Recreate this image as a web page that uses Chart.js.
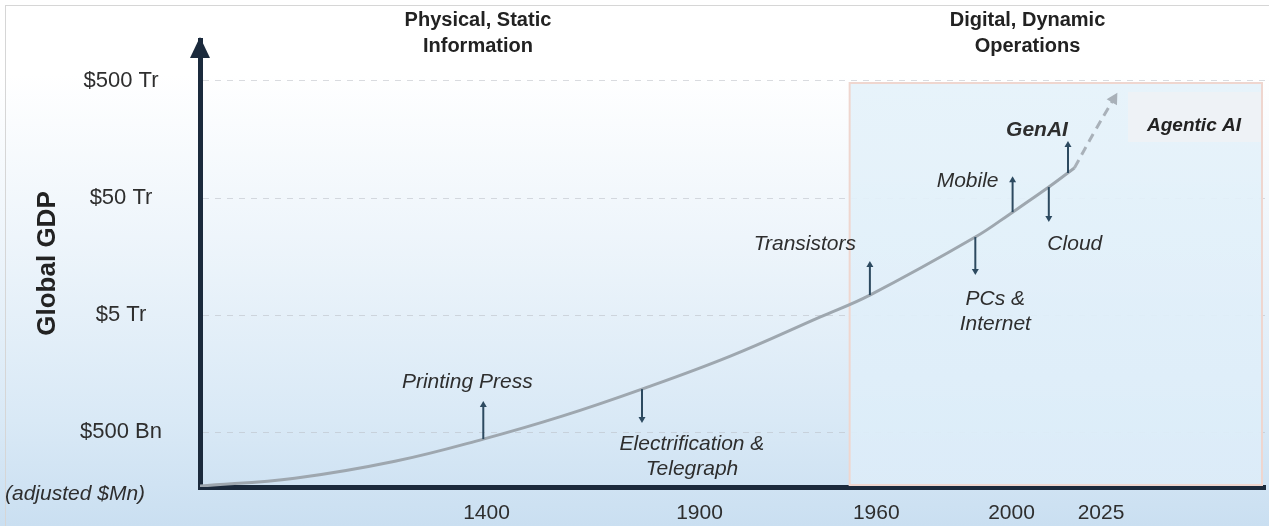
<!DOCTYPE html>
<html>
<head>
<meta charset="utf-8">
<script src="https://cdn.jsdelivr.net/npm/chart.js@4/dist/chart.umd.min.js"></script>
<style>
  html, body { margin: 0; padding: 0; background: #f3f3f3; }
  #wrap {
    position: absolute; left: 0; top: 0; width: 1269px; height: 526px;
    background: linear-gradient(180deg, #ffffff 0%, #ffffff 14%, #eef5fb 45%, #d9e9f6 80%, #cadff1 100%);
  }
  #frame {
    position: absolute; left: 5px; top: 5px; right: 0; bottom: -2px;
    border: 1px solid #d6d6d6; border-right: none; border-bottom: none;
    pointer-events: none;
  }
  canvas { position: absolute; left: 0; top: 0; }
</style>
</head>
<body>
<div id="wrap">
  <canvas id="chart" width="1269" height="526"></canvas>
  <div id="frame"></div>
</div>
<script>
// 軸の目盛り
const xTickPos = [26.9, 46.9, 63.5, 76.2, 84.6];
const xTickLabels = ['1400', '1900', '1960', '2000', '2025'];
const yTickValues = [500, 5000, 50000, 500000];  // $Bn
const yTickLabels = ['$500 Bn', '$5 Tr', '$50 Tr', '$500 Tr'];

// GDPカーブ（横軸は時代の位置、縦軸は $Bn）
const curveX = [0, 8.9, 18.3, 26.6, 34.0, 41.5, 49.8, 58.2, 62.9, 72.8, 76.3, 79.7, 82.1];
const curveGdp = [173, 202, 282, 436, 685, 1166, 2231, 4804, 7413, 23210, 37900, 62050, 90300];

// 将来の予測（点線）
const projX = [82.1, 84.0, 85.9];
const projGdp = [90300, 185000, 365000];

// マイルストーン
const milestoneNames = [['Printing Press'], ['Electrification &', 'Telegraph'], ['Transistors'],
                        ['PCs &', 'Internet'], ['Mobile'], ['Cloud'], ['GenAI']];
const milestoneX = [26.6, 41.5, 62.9, 72.8, 76.3, 79.7, 81.5];
const milestoneGdp = [436, 1166, 7413, 23210, 37900, 62050, 81800];
const milestoneDir = ['up', 'down', 'up', 'down', 'up', 'down', 'up'];

// 時代の見出し
const eraTitles = [['Physical, Static', 'Information'], ['Digital, Dynamic', 'Operations']];
const eraCenters = [26.1, 77.7];
const digitalStart = 61.0;

const AXIS_COLOR = '#1b2a3c';
const TEXT_COLOR = '#2e2e2e';
const FONT = '"Liberation Sans", Arial, sans-serif';

// ラベルの配置（矢印の根元からのずれ）
const labelLayout = [
    { len: 38, dx: -16, dy: -57, bold: false },
    { len: 34, dx: 50, dy: 55, bold: false },
    { len: 34, dx: -65, dy: -51, bold: false },
    { len: 38, dx: 20, dy: 62, bold: false },
    { len: 36, dx: -45, dy: -31, bold: false },
    { len: 35, dx: 26, dy: 57, bold: false },
    { len: 32, dx: -31, dy: -43, bold: true }
];

// 背景の領域（デジタル時代の枠）
const regionPlugin = {
    id: 'regions',
    beforeDatasetsDraw(chart) {
        const { ctx, chartArea, scales: { x, y } } = chart;
        const left = x.getPixelForValue(digitalStart);
        const top = y.getPixelForValue(500000) + 2;
        const right = chartArea.right - 3;
        const bottom = chartArea.bottom - 2;
        ctx.save();
        const g = ctx.createLinearGradient(0, top, 0, bottom);
        g.addColorStop(0, 'rgba(229, 242, 250, 0.92)');
        g.addColorStop(1, 'rgba(220, 236, 248, 0.92)');
        ctx.fillStyle = g;
        ctx.fillRect(left, top, right - left, bottom - top);
        ctx.strokeStyle = '#efd6cf';
        ctx.lineWidth = 2;
        ctx.strokeRect(left, top, right - left, bottom - top);

        // Agentic AI の箱
        ctx.fillStyle = 'rgba(238, 242, 245, 0.9)';
        ctx.fillRect(1128, top + 9, right - 1 - 1128, 50);
        ctx.restore();
    }
};

// 注釈（矢印、テキスト、軸の矢印）
const annotationPlugin = {
    id: 'annotations',
    afterDatasetsDraw(chart) {
        const { ctx, chartArea, scales: { x, y } } = chart;
        ctx.save();

        // 見出し
        ctx.fillStyle = '#222';
        ctx.font = 'bold 20px ' + FONT;
        ctx.textAlign = 'center';
        ctx.textBaseline = 'middle';
        eraTitles.forEach((lines, i) => {
            const cx = x.getPixelForValue(eraCenters[i]);
            lines.forEach((t, j) => ctx.fillText(t, cx, 20 + j * 26));
        });

        // マイルストーンの矢印とラベル
        milestoneNames.forEach((lines, i) => {
            const lay = labelLayout[i];
            const px = x.getPixelForValue(milestoneX[i]);
            const py = y.getPixelForValue(milestoneGdp[i]);
            const sign = milestoneDir[i] === 'up' ? -1 : 1;
            const tipY = py + sign * lay.len;
            ctx.strokeStyle = '#2d4a60';
            ctx.fillStyle = '#2d4a60';
            ctx.lineWidth = 2;
            ctx.beginPath();
            ctx.moveTo(px, py);
            ctx.lineTo(px, tipY - sign * 4);
            ctx.stroke();
            ctx.beginPath();
            ctx.moveTo(px, tipY);
            ctx.lineTo(px - 3.5, tipY - sign * 6);
            ctx.lineTo(px + 3.5, tipY - sign * 6);
            ctx.closePath();
            ctx.fill();

            ctx.fillStyle = TEXT_COLOR;
            ctx.font = (lay.bold ? 'italic bold 21px ' : 'italic 21px ') + FONT;
            lines.forEach((t, j) => ctx.fillText(t, px + lay.dx, py + lay.dy + j * 25));
        });

        // Agentic AI
        ctx.fillStyle = '#222';
        ctx.font = 'italic bold 19px ' + FONT;
        ctx.fillText('Agentic AI', 1194, 126);

        // 予測線の矢じり
        const n = projX.length;
        const ex = x.getPixelForValue(projX[n - 1]);
        const ey = y.getPixelForValue(projGdp[n - 1]);
        const sx = x.getPixelForValue(projX[n - 2]);
        const sy = y.getPixelForValue(projGdp[n - 2]);
        const ang = Math.atan2(ey - sy, ex - sx);
        ctx.fillStyle = '#a9b1b9';
        ctx.beginPath();
        ctx.moveTo(ex + Math.cos(ang) * 5, ey + Math.sin(ang) * 5);
        ctx.lineTo(ex - Math.cos(ang) * 6 - Math.sin(ang) * 6, ey - Math.sin(ang) * 6 + Math.cos(ang) * 6);
        ctx.lineTo(ex - Math.cos(ang) * 6 + Math.sin(ang) * 6, ey - Math.sin(ang) * 6 - Math.cos(ang) * 6);
        ctx.closePath();
        ctx.fill();

        // 縦軸の矢じり
        const ax = chartArea.left;
        ctx.fillStyle = AXIS_COLOR;
        ctx.beginPath();
        ctx.moveTo(ax, 37);
        ctx.lineTo(ax - 10, 58);
        ctx.lineTo(ax + 10, 58);
        ctx.closePath();
        ctx.fill();

        // 単位
        ctx.fillStyle = TEXT_COLOR;
        ctx.font = 'italic 21px ' + FONT;
        ctx.textAlign = 'left';
        ctx.fillText('(adjusted $Mn)', 5, 494);
        ctx.restore();
    }
};

new Chart(document.getElementById('chart'), {
    type: 'line',
    data: {
        datasets: [{
            data: curveX.map((v, i) => ({ x: v, y: curveGdp[i] })),
            borderColor: '#9ea7af',
            borderWidth: 3,
            pointRadius: 0,
            tension: 0.4,
            fill: false
        }, {
            data: projX.map((v, i) => ({ x: v, y: projGdp[i] })),
            borderColor: '#a9b1b9',
            borderWidth: 3,
            borderDash: [9, 6],
            pointRadius: 0,
            tension: 0.4,
            fill: false
        }]
    },
    options: {
        responsive: false,
        animation: false,
        layout: { padding: { top: 40, right: 4, left: 0, bottom: 0 } },
        plugins: { legend: { display: false }, tooltip: { enabled: false } },
        scales: {
            x: {
                type: 'linear',
                min: 0,
                max: 100,
                afterBuildTicks: (scale) => { scale.ticks = xTickPos.map(v => ({ value: v })); },
                afterFit: (scale) => { scale.height = 39; },
                ticks: {
                    autoSkip: false,
                    maxRotation: 0,
                    padding: 14,
                    color: TEXT_COLOR,
                    font: { family: FONT, size: 21 },
                    callback: (v, i) => xTickLabels[i]
                },
                grid: { display: false, drawTicks: false },
                border: { display: true, color: AXIS_COLOR, width: 5 }
            },
            y: {
                type: 'logarithmic',
                min: 170,
                max: 1120000,
                afterBuildTicks: (scale) => { scale.ticks = yTickValues.map(v => ({ value: v })); },
                afterFit: (scale) => { scale.width = 200; },
                ticks: {
                    crossAlign: 'center',
                    padding: 0,
                    color: TEXT_COLOR,
                    font: { family: FONT, size: 22 },
                    callback: (v, i) => yTickLabels[i]
                },
                grid: {
                    color: 'rgba(185, 190, 196, 0.55)',
                    lineWidth: 1,
                    drawTicks: true,
                    tickLength: 38,
                    tickColor: 'rgba(0, 0, 0, 0)'
                },
                border: { display: true, color: AXIS_COLOR, width: 5, dash: [6, 6] },
                title: {
                    display: true,
                    text: 'Global GDP',
                    color: '#222',
                    font: { family: FONT, size: 26, weight: 'bold' },
                    padding: { top: 32, bottom: 0 }
                }
            }
        }
    },
    plugins: [regionPlugin, annotationPlugin]
});
</script>
</body>
</html>
